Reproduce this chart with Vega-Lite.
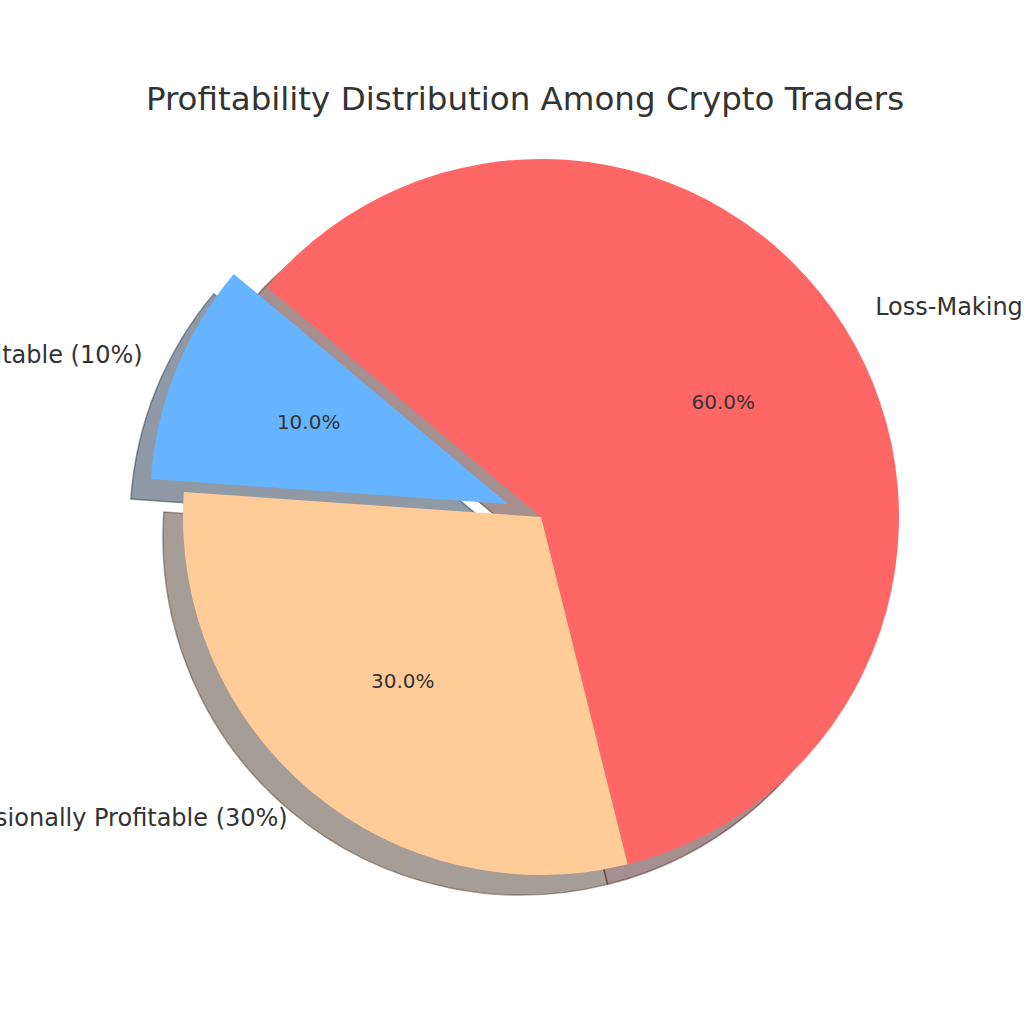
{
  "$schema": "https://vega.github.io/schema/vega-lite/v6.json",
  "width": 966,
  "height": 1014,
  "autosize": {"type": "none"},
  "padding": {"left": 58, "top": 10, "right": 0, "bottom": 0},
  "background": "white",
  "config": {"view": {"stroke": null}, "font": "DejaVu Sans"},
  "title": {
    "text": "Profitability Distribution Among Crypto Traders",
    "fontSize": 32.5,
    "font": "DejaVu Sans",
    "fontWeight": "normal",
    "color": "#333333",
    "anchor": "middle",
    "baseline": "alphabetic",
    "offset": -132,
    "dx": -16
  },
  "data": {
    "values": [
      {"cat": "Loss-Making (60%)", "value": 60, "order": 1, "pct": "60.0%"},
      {"cat": "Occasionally Profitable (30%)", "value": 30, "order": 2, "pct": "30.0%"},
      {"cat": "Consistently Profitable (10%)", "value": 10, "order": 3, "pct": "10.0%"}
    ]
  },
  "transform": [
    {"stack": "value", "groupby": [], "as": ["v0", "v1"], "sort": [{"field": "order", "order": "ascending"}]},
    {"calculate": "(datum.v0 + datum.v1) / 2", "as": "mid"}
  ],
  "layer": [
    {
      "transform": [{"filter": "datum.order != 3"}],
      "mark": {"type": "arc", "radius": 358, "xOffset": -20, "yOffset": 20, "fillOpacity": 0.5, "strokeOpacity": 0.5, "strokeWidth": 1.5},
      "encoding": {
        "theta": {"field": "v0", "type": "quantitative", "scale": {"domain": [0, 100], "range": [-0.872665, 5.410521]}},
        "theta2": {"field": "v1"},
        "fill": {"field": "cat", "type": "nominal", "legend": null, "scale": {"domain": ["Loss-Making (60%)", "Occasionally Profitable (30%)", "Consistently Profitable (10%)"], "range": ["#4d1f1f", "#4d3d2e", "#1f364d"]}},
        "stroke": {"field": "cat", "type": "nominal", "legend": null, "scale": {"domain": ["Loss-Making (60%)", "Occasionally Profitable (30%)", "Consistently Profitable (10%)"], "range": ["#4d1f1f", "#4d3d2e", "#1f364d"]}}
      }
    },
    {
      "transform": [{"filter": "datum.order == 3"}],
      "mark": {"type": "arc", "radius": 358, "xOffset": -53, "yOffset": 7, "fillOpacity": 0.5, "strokeOpacity": 0.5, "strokeWidth": 1.5},
      "encoding": {
        "theta": {"field": "v0", "type": "quantitative"},
        "theta2": {"field": "v1"},
        "fill": {"field": "cat", "type": "nominal", "legend": null},
        "stroke": {"field": "cat", "type": "nominal", "legend": null}
      }
    },
    {
      "transform": [{"filter": "datum.order != 3"}],
      "mark": {"type": "arc", "radius": 358},
      "encoding": {
        "theta": {"field": "v0", "type": "quantitative"},
        "theta2": {"field": "v1"},
        "color": {"field": "cat", "type": "nominal", "legend": null, "scale": {"domain": ["Loss-Making (60%)", "Occasionally Profitable (30%)", "Consistently Profitable (10%)"], "range": ["#ff6666", "#ffcc99", "#66b3ff"]}}
      }
    },
    {
      "transform": [{"filter": "datum.order == 3"}],
      "mark": {"type": "arc", "radius": 358, "xOffset": -33, "yOffset": -13},
      "encoding": {
        "theta": {"field": "v0", "type": "quantitative"},
        "theta2": {"field": "v1"},
        "color": {"field": "cat", "type": "nominal", "legend": null}
      }
    },
    {
      "transform": [{"filter": "datum.order != 3"}],
      "mark": {"type": "text", "radius": 215, "fontSize": 20, "color": "#333333", "align": "center", "baseline": "middle"},
      "encoding": {
        "theta": {"field": "mid", "type": "quantitative", "stack": null},
        "text": {"field": "pct"}
      }
    },
    {
      "transform": [{"filter": "datum.order == 3"}],
      "mark": {"type": "text", "radius": 215, "xOffset": -33, "yOffset": -13, "fontSize": 20, "color": "#333333", "align": "center", "baseline": "middle"},
      "encoding": {
        "theta": {"field": "mid", "type": "quantitative", "stack": null},
        "text": {"field": "pct"}
      }
    },
    {
      "transform": [{"filter": "datum.order == 1"}],
      "mark": {"type": "text", "radius": 394, "fontSize": 24, "color": "#333333", "align": "left", "baseline": "middle"},
      "encoding": {
        "theta": {"field": "mid", "type": "quantitative", "stack": null},
        "text": {"field": "cat"}
      }
    },
    {
      "transform": [{"filter": "datum.order == 2"}],
      "mark": {"type": "text", "radius": 394, "fontSize": 24, "color": "#333333", "align": "right", "baseline": "middle"},
      "encoding": {
        "theta": {"field": "mid", "type": "quantitative", "stack": null},
        "text": {"field": "cat"}
      }
    },
    {
      "transform": [{"filter": "datum.order == 3"}],
      "mark": {"type": "text", "radius": 394, "xOffset": -33, "yOffset": -13, "fontSize": 24, "color": "#333333", "align": "right", "baseline": "middle"},
      "encoding": {
        "theta": {"field": "mid", "type": "quantitative", "stack": null},
        "text": {"field": "cat"}
      }
    }
  ]
}
